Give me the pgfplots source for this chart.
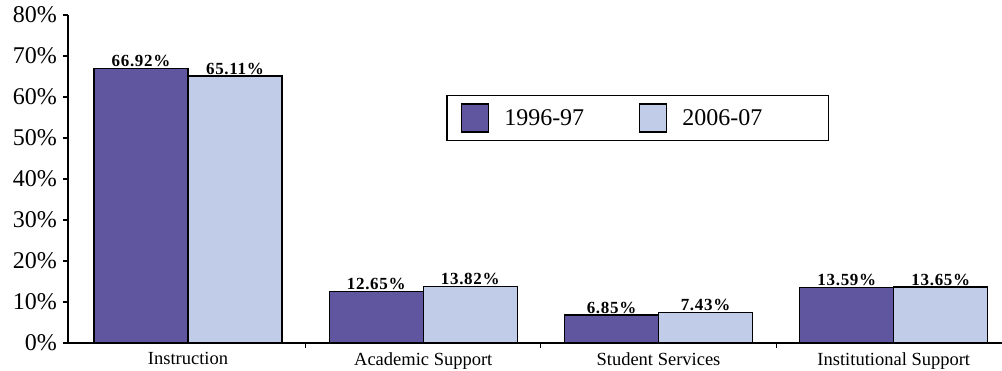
\documentclass[border=0pt]{standalone}
\usepackage{fontspec}
\setmainfont{Liberation Serif}
\newfontfamily\lblfont[LetterSpace=4]{Liberation Serif}
\usepackage{pgfplots}
\pgfplotsset{compat=1.18}
\definecolor{darkp}{RGB}{96,86,160}
\definecolor{lightb}{RGB}{193,205,232}
\pgfplotsset{
  mylegend/.style={legend image code/.code={\draw[##1,line width=1.2pt] (0pt,-14pt) rectangle (27pt,14pt);}}
}
\begin{document}
\begin{tikzpicture}
\useasboundingbox (0,0) rectangle (1002pt,371pt);
\begin{axis}[
  at={(68pt,28pt)}, anchor=south west, scale only axis,
  width=934pt, height=328pt,
  ymin=0, ymax=80, xmin=-0.51, xmax=3.46,
  ybar=0pt, bar width=94pt,
  axis lines=left, axis line style={-, line width=1.1pt},
  tick align=outside, major tick length=5pt,
  tick style={black, line width=1.1pt},
  ytick={0,10,...,80},
  yticklabel={\pgfmathprintnumber{\tick}\%},
  /pgf/number format/assume math mode=true,
  yticklabel style={font=\fontsize{24}{24}\selectfont, inner xsep=6pt},
  xtick={0.5,1.5,2.5}, xticklabels={},
  extra x ticks={0,1,2,3},
  extra x tick labels={Instruction,Academic Support,Student Services,Institutional Support},
  extra x tick style={major tick length=0pt, tick label style={font=\fontsize{18.5}{18.5}\selectfont, yshift=-6pt}},
  nodes near coords={\pgfmathprintnumber[fixed,precision=2,fixed zerofill]{\pgfplotspointmeta}\%},
  nodes near coords style={font=\lblfont\bfseries\fontsize{17}{17}\selectfont, inner sep=1pt, black},
  legend columns=2,
  legend style={at={(0.61,0.686)}, anchor=center, draw=black, line width=1.2pt,
    font=\fontsize{24}{24}\selectfont, inner xsep=14pt, inner ysep=8pt,
    /tikz/every odd column/.append style={column sep=13pt},
    /tikz/every even column/.append style={column sep=53pt}},
  clip=false,
]
\addplot[fill=darkp, draw=black, line width=1.2pt, mylegend] coordinates {(0,66.92) (1,12.65) (2,6.85) (3,13.59)};
\addplot[fill=lightb, draw=black, line width=1.2pt, mylegend] coordinates {(0,65.11) (1,13.82) (2,7.43) (3,13.65)};
\legend{1996-97,2006-07\hspace*{50pt}}
\end{axis}
\end{tikzpicture}
\end{document}
